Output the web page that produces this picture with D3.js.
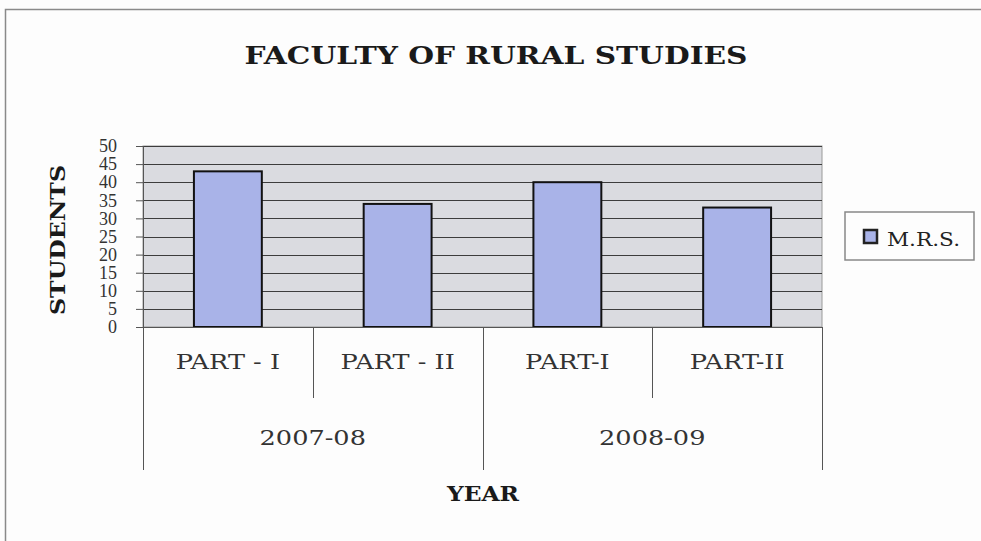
<!DOCTYPE html>
<html>
<head>
<meta charset="utf-8">
<script src="https://cdn.jsdelivr.net/npm/d3@7"></script>
<style>
  body { margin: 0; background: #fdfdfd; }
  svg text { font-family: "DejaVu Serif", serif; }
</style>
</head>
<body>
<div id="chart"></div>
<script>
// data
var years = ["2007-08", "2008-09"];
var parts = ["PART - I", "PART - II", "PART-I", "PART-II"];
var partYear = ["2007-08", "2007-08", "2008-09", "2008-09"];
var students = [43, 34, 40, 33];
var yTicks = [0, 5, 10, 15, 20, 25, 30, 35, 40, 45, 50];
var seriesName = "M.R.S.";

var W = 981, H = 541;
var plot = { left: 143, top: 146, right: 822, bottom: 327 };

var svg = d3.select("#chart").append("svg")
  .attr("width", W)
  .attr("height", H);

// outer chart frame (only left and top edges are in the photo)
svg.append("path")
  .attr("d", "M5.5," + H + "V9.5H" + W)
  .attr("fill", "none")
  .attr("stroke", "#8a8a8a")
  .attr("stroke-width", 1.5);

// title
svg.append("text")
  .attr("x", 496)
  .attr("y", 64)
  .attr("text-anchor", "middle")
  .attr("textLength", 503)
  .attr("lengthAdjust", "spacingAndGlyphs")
  .style("font-size", "25px")
  .style("font-weight", "bold")
  .style("fill", "#1a1a1a")
  .text("FACULTY OF RURAL STUDIES");

var x = d3.scaleBand()
  .domain(parts)
  .range([plot.left, plot.right])
  .paddingInner(0)
  .paddingOuter(0);

var y = d3.scaleLinear()
  .domain([0, 50])
  .range([plot.bottom, plot.top]);

// plot area
svg.append("rect")
  .attr("x", plot.left)
  .attr("y", plot.top)
  .attr("width", plot.right - plot.left)
  .attr("height", plot.bottom - plot.top)
  .attr("fill", "#dadbe0")
  .attr("stroke", "#9a9a9a");

// gridlines
svg.append("g")
  .selectAll("line")
  .data(yTicks.slice(1))
  .enter()
  .append("line")
    .attr("x1", plot.left)
    .attr("x2", plot.right)
    .attr("y1", function (d) { return Math.round(y(d)) + 0.5; })
    .attr("y2", function (d) { return Math.round(y(d)) + 0.5; })
    .attr("stroke", "#3c3c3c")
    .attr("stroke-width", 1);

// y axis
var yAxis = svg.append("g")
  .attr("transform", "translate(" + plot.left + ",0)")
  .call(d3.axisLeft(y).tickValues(yTicks).tickSize(7).tickPadding(19));
yAxis.select(".domain").attr("stroke", "#555");
yAxis.selectAll(".tick line").attr("stroke", "#555");
yAxis.selectAll(".tick text")
  .style("font-size", "18px")
  .style("font-family", "'Liberation Serif', serif")
  .attr("fill", "#333");

// bars
svg.append("g")
  .selectAll("rect")
  .data(students)
  .enter()
  .append("rect")
    .attr("x", function (d, i) { return x(parts[i]) + x.bandwidth() * 0.3; })
    .attr("width", x.bandwidth() * 0.4)
    .attr("y", function (d) { return y(d); })
    .attr("height", function (d) { return y(0) - y(d); })
    .attr("fill", "#a9b3e8")
    .attr("stroke", "#111")
    .attr("stroke-width", 2);

// x axis baseline
svg.append("line")
  .attr("x1", plot.left).attr("x2", plot.right)
  .attr("y1", plot.bottom + 0.5).attr("y2", plot.bottom + 0.5)
  .attr("stroke", "#555");

// category dividers: short between parts, long between years
var dividerX = parts.map(function (p) { return x(p); }).concat([plot.right]);
svg.append("g")
  .selectAll("line")
  .data(dividerX)
  .enter()
  .append("line")
    .attr("x1", function (d) { return Math.round(d) + 0.5; })
    .attr("x2", function (d) { return Math.round(d) + 0.5; })
    .attr("y1", plot.bottom)
    .attr("y2", function (d, i) {
      var isYearEdge = i === 0 || i === parts.length ||
        partYear[i] !== partYear[i - 1];
      return isYearEdge ? 470 : 398;
    })
    .attr("stroke", "#555");

// the original face is a wide bookman-like serif, so stretch a little
var wide = 1.28;

// part labels
svg.append("g")
  .selectAll("text")
  .data(parts)
  .enter()
  .append("text")
    .attr("transform", function (d) {
      return "translate(" + (x(d) + x.bandwidth() / 2) + ",369) scale(" + wide + ",1)";
    })
    .attr("text-anchor", "middle")
    .style("font-size", "20px")
    .style("fill", "#333")
    .text(function (d) { return d; });

// year labels centred under their parts
svg.append("g")
  .selectAll("text")
  .data(years)
  .enter()
  .append("text")
    .attr("transform", function (yr) {
      var xs = parts.filter(function (p, i) { return partYear[i] === yr; })
        .map(function (p) { return x(p); });
      var cx = (d3.min(xs) + d3.max(xs) + x.bandwidth()) / 2;
      return "translate(" + cx + ",445) scale(" + wide + ",1)";
    })
    .attr("text-anchor", "middle")
    .style("font-size", "20px")
    .style("fill", "#333")
    .text(function (d) { return d; });

// axis titles
svg.append("text")
  .attr("x", 483)
  .attr("y", 501)
  .attr("text-anchor", "middle")
  .attr("textLength", 72)
  .attr("lengthAdjust", "spacingAndGlyphs")
  .style("font-size", "21px")
  .style("font-weight", "bold")
  .style("fill", "#1a1a1a")
  .text("YEAR");

svg.append("text")
  .attr("transform", "translate(65,240) rotate(-90)")
  .attr("text-anchor", "middle")
  .attr("textLength", 150)
  .attr("lengthAdjust", "spacingAndGlyphs")
  .style("font-size", "20px")
  .style("font-weight", "bold")
  .style("fill", "#1a1a1a")
  .text("STUDENTS");

// legend
var legend = svg.append("g").attr("transform", "translate(845,212)");
legend.append("rect")
  .attr("width", 129).attr("height", 48)
  .attr("fill", "#fdfdfd")
  .attr("stroke", "#888")
  .attr("stroke-width", 1.5);
legend.append("rect")
  .attr("x", 19).attr("y", 18)
  .attr("width", 13).attr("height", 13)
  .attr("fill", "#a9b3e8")
  .attr("stroke", "#222")
  .attr("stroke-width", 2.5);
legend.append("text")
  .attr("x", 42).attr("y", 34)
  .attr("textLength", 73)
  .attr("lengthAdjust", "spacingAndGlyphs")
  .style("font-size", "19px")
  .style("fill", "#222")
  .text(seriesName);
</script>
</body>
</html>
